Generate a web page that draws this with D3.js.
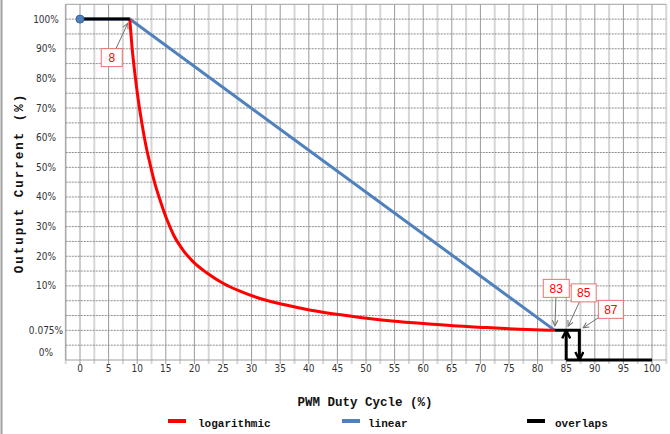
<!DOCTYPE html>
<html><head><meta charset="utf-8">
<script src="https://cdn.jsdelivr.net/npm/d3@7/dist/d3.min.js"></script>
<style>body{margin:0;background:#fff;} svg{display:block}</style>
</head><body>
<svg id="c" width="670" height="434"></svg>
<script>
// ---------- data ----------
const xTickValues = d3.range(0, 101, 5);
const yTickValues = [100, 90, 80, 70, 60, 50, 40, 30, 20, 10, 0.075, 0];
const yTickLabels = ["100%","90%","80%","70%","60%","50%","40%","30%","20%","10%","0.075%","0%"];

const logDuty = [8.7, 9.09, 9.62, 10.14, 10.84, 11.54, 12.24, 13.11, 13.99, 15.21, 16.43, 18.01, 19.76, 22.2, 25.0, 27.97, 30.94, 34.44, 38.46, 41.96, 47.73, 53.67, 59.44, 65.21, 71.15, 76.92, 83.0];
const logPct  = [100, 90.6, 81.2, 73.4, 64.6, 57.2, 51.2, 44.4, 39.0, 32.3, 26.9, 22.1, 18.2, 14.35, 10.9, 8.84, 7.41, 6.18, 5.07, 4.22, 3.17, 2.28, 1.65, 1.09, 0.69, 0.33, 0.075];

const linDuty = [0, 8.7, 83.0];
const linPct  = [100, 100, 0.075];

const overlapFlatDuty = [0, 8.7];
const overlapFlatPct  = [100, 100];
const overlapTopDuty = [83.0, 87.3, 87.3];
const overlapTopPct  = [0.075, 0.075, 0];
const overlapUpDuty = [85, 85];
const overlapUpPct  = [0, 0.075];
const overlapBottomDuty = [85, 100];
const overlapBottomPct  = [0, 0];

const annotLabels = ["8", "83", "85", "87"];
const annotDuty = [8.7, 83.0, 85, 87.3];
const annotPct  = [100, 0.075, 0.075, 0.075];

const legendLabels = ["logarithmic", "linear", "overlaps"];

// ---------- layout ----------
const C = { red: "#ff0000", blue: "#4f81bd", black: "#000" };
const annotOffsets = [[-18, 38.5], [1.5, -42], [17.5, -37.5], [31.5, -21]];
const annotBox = [[21, 18], [26, 18], [25, 18], [25, 18]];

const svg = d3.select("#c");
const plot = { left: 65.7, right: 666.3, top: 4.3, bottom: 360 };
const x = d3.scaleLinear().domain([-2.5, 102.5]).range([plot.left, plot.right]);
const row = d3.scaleLinear().domain([0, 24]).range([plot.bottom, plot.top]);
const y = d3.scaleLinear().domain([0, 0.075, 10, 100]).range([row(0), row(2), row(5), row(23)]);

// left frame line of picture
svg.append("line").attr("x1", 1.5).attr("x2", 1.5).attr("y1", 0).attr("y2", 434)
  .attr("stroke", "#a0a0a0").attr("stroke-width", 2);

// grid
const g = svg.append("g");
d3.range(-2.5, 102.6, 2.5).forEach(v => {
  const major = Math.abs(v % 5) < 1e-9;
  g.append("line").attr("x1", x(v)).attr("x2", x(v)).attr("y1", plot.top).attr("y2", plot.bottom + 4)
    .attr("stroke", major ? "#9a9a9a" : "#d6d6d6").attr("stroke-width", major ? 1 : 2);
});
d3.range(1, 24).forEach(r => {
  g.append("line").attr("x1", plot.left).attr("x2", plot.right).attr("y1", row(r)).attr("y2", row(r))
    .attr("stroke", "#8c8c8c").attr("stroke-width", 1).attr("stroke-dasharray", "2,1");
});
g.append("line").attr("x1", plot.left).attr("x2", plot.right).attr("y1", plot.top).attr("y2", plot.top).attr("stroke", "#a0a0a0");
g.append("line").attr("x1", plot.left).attr("x2", plot.right).attr("y1", plot.bottom).attr("y2", plot.bottom).attr("stroke", "#a0a0a0");
g.append("line").attr("x1", plot.left).attr("x2", plot.left).attr("y1", plot.top).attr("y2", plot.bottom).attr("stroke", "#a0a0a0");

// tick labels
const tickFont = "'Liberation Sans Narrow','DejaVu Sans Condensed','Liberation Sans',sans-serif";
svg.append("g").selectAll("text").data(xTickValues).join("text")
  .attr("x", d => x(d)).attr("y", 372).attr("text-anchor", "middle")
  .attr("font-family", tickFont).attr("font-size", 10).attr("fill", "#333").text(d => d);
svg.append("g").selectAll("text").data(yTickValues).join("text")
  .attr("x", 46).attr("y", (d) => (d === 0 ? row(0.5) : y(d)) + 3.5).attr("text-anchor", "middle")
  .attr("font-family", tickFont).attr("font-size", 10).attr("fill", "#333")
  .text((d, i) => yTickLabels[i]);

// axis titles
const monoFont = "'Liberation Mono','DejaVu Sans Mono',monospace";
svg.append("text").attr("x", 365).attr("y", 406).attr("text-anchor", "middle")
  .attr("font-family", monoFont).attr("font-size", 12.5).attr("font-weight", "bold").attr("fill", "#111")
  .text("PWM Duty Cycle (%)");
svg.append("text").attr("transform", "translate(23,183) rotate(-90)").attr("text-anchor", "middle")
  .attr("font-family", monoFont).attr("font-size", 12.5).attr("font-weight", "bold").attr("letter-spacing", 2).attr("fill", "#111")
  .text("Outuput Current (%)");

// series
const line = (xs, ys) => d3.line().x(i => x(xs[i])).y(i => y(ys[i]))(d3.range(xs.length));
const lineCurve = (xs, ys) => d3.line().x(i => x(xs[i])).y(i => y(ys[i])).curve(d3.curveMonotoneX)(d3.range(xs.length));

svg.append("path").attr("d", line(linDuty, linPct)).attr("fill", "none").attr("stroke", C.blue).attr("stroke-width", 3);
svg.append("path").attr("d", lineCurve(logDuty, logPct)).attr("fill", "none").attr("stroke", C.red).attr("stroke-width", 3);

// markers
const defs = svg.append("defs");
defs.append("marker").attr("id", "bk").attr("viewBox", "0 0 10 10").attr("refX", 9).attr("refY", 5)
  .attr("markerWidth", 10).attr("markerHeight", 10).attr("markerUnits", "userSpaceOnUse").attr("orient", "auto")
  .append("path").attr("d", "M1,1 L9,5 L1,9").attr("fill", "none").attr("stroke", "#000").attr("stroke-width", 2.4);
defs.append("marker").attr("id", "gr").attr("viewBox", "0 0 10 10").attr("refX", 9).attr("refY", 5)
  .attr("markerWidth", 7).attr("markerHeight", 7).attr("markerUnits", "userSpaceOnUse").attr("orient", "auto")
  .append("path").attr("d", "M1,1 L9,5 L1,9").attr("fill", "none").attr("stroke", "#707070").attr("stroke-width", 1.5);

svg.append("path").attr("d", line(overlapFlatDuty, overlapFlatPct)).attr("fill", "none").attr("stroke", C.black).attr("stroke-width", 3);
svg.append("path").attr("d", line(overlapBottomDuty, overlapBottomPct)).attr("fill", "none").attr("stroke", C.black).attr("stroke-width", 3);
svg.append("path").attr("d", line(overlapTopDuty, overlapTopPct)).attr("fill", "none").attr("stroke", C.black).attr("stroke-width", 3).attr("marker-end", "url(#bk)");
svg.append("path").attr("d", line(overlapUpDuty, overlapUpPct)).attr("fill", "none").attr("stroke", C.black).attr("stroke-width", 3).attr("marker-end", "url(#bk)");

svg.append("circle").attr("cx", x(linDuty[0])).attr("cy", y(linPct[0])).attr("r", 4)
  .attr("fill", C.blue).attr("stroke", "#3a6596").attr("stroke-width", 1);

// annotations
annotLabels.forEach((lab, i) => {
  const px = x(annotDuty[i]), py = y(annotPct[i]);
  const cx = px + annotOffsets[i][0], cy = py + annotOffsets[i][1];
  const [w, h] = annotBox[i];
  const dx = px - cx, dy = py - cy;
  const t = Math.min(Math.abs((w / 2) / dx || Infinity), Math.abs((h / 2) / dy || Infinity));
  const sx = cx + dx * t, sy = cy + dy * t;
  const len = Math.hypot(dx, dy);
  const ex = px - dx / len * 4.5, ey = py - dy / len * 4.5;
  svg.append("line").attr("x1", sx).attr("y1", sy).attr("x2", ex).attr("y2", ey)
    .attr("stroke", "#707070").attr("stroke-width", 1).attr("marker-end", "url(#gr)");
  svg.append("rect").attr("x", cx - w / 2).attr("y", cy - h / 2).attr("width", w).attr("height", h)
    .attr("fill", "#fff").attr("stroke", "#f07070").attr("stroke-width", 1);
  svg.append("text").attr("x", cx).attr("y", cy + 4.5).attr("text-anchor", "middle")
    .attr("font-family", "'Liberation Sans',Arial,sans-serif").attr("font-size", 12).attr("fill", C.red).text(lab);
});

// legend
const legendColors = [C.red, C.blue, C.black];
const legendX = [168, 342, 527];
const legendTextX = [198, 368, 555];
legendLabels.forEach((lab, i) => {
  svg.append("line").attr("x1", legendX[i]).attr("x2", legendX[i] + 18).attr("y1", 421).attr("y2", 421)
    .attr("stroke", legendColors[i]).attr("stroke-width", 4);
  svg.append("text").attr("x", legendTextX[i]).attr("y", 427).attr("font-family", monoFont)
    .attr("font-size", 11).attr("font-weight", "bold").attr("fill", "#111").text(lab);
});
</script>
</body></html>
